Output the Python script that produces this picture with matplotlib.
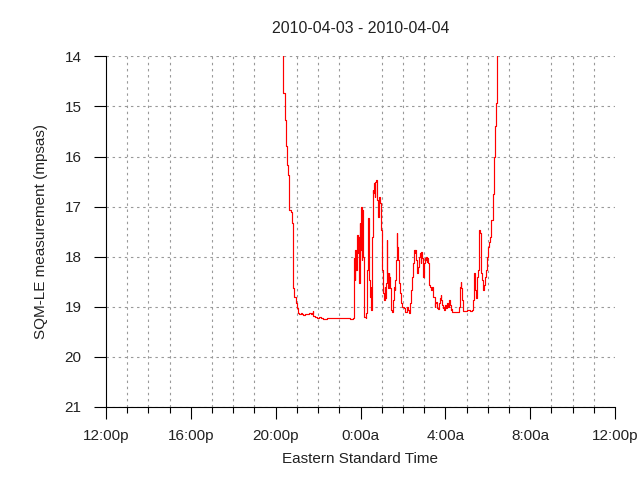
import matplotlib
matplotlib.use("Agg")
import matplotlib.pyplot as plt
from matplotlib.ticker import MultipleLocator

title = "2010-04-03 - 2010-04-04"
xlabel = "Eastern Standard Time"
ylabel = "SQM-LE measurement (mpsas)"
x_tick_pos = [0, 4, 8, 12, 16, 20, 24]
x_tick_labels = ["12:00p", "16:00p", "20:00p", "0:00a", "4:00a", "8:00a", "12:00p"]
y_ticks = [14, 15, 16, 17, 18, 19, 20, 21]

# hours after 12:00p (2010-04-03)
hours = [
    8.365, 8.365, 8.443, 8.443, 8.491, 8.491, 8.553, 8.600, 8.648, 8.711,
    8.758, 8.805, 8.836, 8.884, 8.947, 8.994, 9.057, 9.12, 9.18, 9.245,
    9.31, 9.37, 9.47, 9.56, 9.65, 9.72, 9.75, 9.78, 9.84, 9.94,
    10.03, 10.13, 10.22, 10.35, 10.41, 10.57, 10.88, 11.19, 11.51, 11.63,
    11.667, 11.699, 11.730, 11.761, 11.793, 11.840, 11.871, 11.903, 11.934, 11.966,
    11.997, 12.013, 12.029, 12.060, 12.092, 12.123, 12.155, 12.186, 12.249, 12.280,
    12.312, 12.359, 12.390, 12.422, 12.453, 12.485, 12.516, 12.548, 12.579, 12.610,
    12.642, 12.673, 12.705, 12.736, 12.768, 12.799, 12.831, 12.862, 12.893, 12.925,
    12.956, 12.988, 13.019, 13.051, 13.082, 13.114, 13.145, 13.176, 13.208, 13.239,
    13.271, 13.302, 13.334, 13.365, 13.397, 13.428, 13.459, 13.491, 13.522, 13.554,
    13.585, 13.617, 13.648, 13.680, 13.711, 13.742, 13.774, 13.805, 13.837, 13.868,
    13.900, 13.931, 13.963, 13.994, 14.025, 14.057, 14.088, 14.120, 14.151, 14.183,
    14.214, 14.246, 14.277, 14.309,
    14.340, 14.387, 14.434, 14.482, 14.529, 14.560, 14.592, 14.623, 14.654, 14.686,
    14.717, 14.749, 14.780, 14.812, 14.843, 14.875, 14.906, 14.937, 14.969, 15.000,
    15.032, 15.063, 15.095, 15.126, 15.158, 15.189, 15.220, 15.252, 15.283, 15.315,
    15.346, 15.378, 15.409, 15.441, 15.472, 15.504, 15.535, 15.566, 15.598, 15.629,
    15.661, 15.692, 15.724, 15.755, 15.787, 15.818, 15.849, 15.881, 15.912, 15.944,
    15.975, 16.007, 16.038, 16.070, 16.101, 16.132, 16.164, 16.195, 16.227, 16.258,
    16.290, 16.321, 16.384, 16.463, 16.541, 16.636, 16.667, 16.698, 16.730, 16.761,
    16.793, 16.824, 16.856, 16.934, 17.013, 17.092, 17.170, 17.249, 17.296, 17.327,
    17.359, 17.390, 17.422, 17.453, 17.485, 17.516, 17.547, 17.579, 17.610, 17.642,
    17.673, 17.705, 17.736, 17.768, 17.799, 17.830, 17.862, 17.893, 17.925, 17.956,
    17.988, 18.019, 18.051, 18.082, 18.113, 18.145, 18.176,
    18.24, 18.30, 18.35, 18.39, 18.43, 18.45,
]

mpsas = [
    13.50, 14.74, 14.77, 15.27, 15.27, 15.79, 16.17, 16.37, 17.07, 17.10,
    17.33, 17.67, 18.63, 18.80, 18.93, 19.03, 19.12, 19.14, 19.13, 19.15,
    19.17, 19.14, 19.14, 19.13, 19.14, 19.12, 19.08, 19.18, 19.21, 19.22,
    19.20, 19.22, 19.25, 19.25, 19.23, 19.23, 19.22, 19.22, 19.24, 19.24,
    19.23, 18.03, 18.46, 17.87, 18.27, 17.57, 17.93, 17.60, 18.53, 17.33,
    17.87, 17.27, 17.00, 18.07, 17.07, 18.00, 18.93, 19.20, 19.23, 19.13,
    18.27, 17.23, 18.07, 18.46, 18.80, 18.60, 19.06, 17.60, 16.67, 16.73,
    16.53, 16.80, 16.50, 16.47, 16.53, 16.87, 17.20, 17.07, 16.80, 16.93,
    17.00, 17.47, 18.27, 18.60, 18.73, 18.86, 18.60, 18.83, 18.53, 17.67,
    18.33, 18.63, 18.33, 18.40, 18.63, 18.93, 19.06, 19.10, 19.06, 18.86,
    18.60, 18.66, 18.46, 18.07, 17.53, 17.80, 18.07, 18.27, 18.53, 18.73,
    18.83, 18.93, 19.00, 19.00, 19.00, 19.03, 19.06, 19.10, 19.10, 19.03,
    19.00, 19.06, 19.12, 19.13,
    18.93, 18.66, 18.40, 18.13, 17.87, 17.93, 17.87, 18.07, 18.20, 18.33,
    18.20, 18.10, 18.00, 17.93, 18.13, 17.90, 18.03, 18.17, 18.40, 18.13,
    18.03, 18.07, 18.00, 18.10, 18.03, 18.13, 18.33, 18.56, 18.60, 18.60,
    18.66, 18.60, 18.70, 18.80, 18.80, 19.01, 18.93, 18.90, 19.00, 19.03,
    19.05, 18.96, 18.93, 18.83, 18.76, 18.86, 18.96, 19.03, 19.00, 19.06,
    19.01, 18.96, 19.03, 19.00, 18.93, 19.01, 18.93, 18.86, 18.96, 19.06,
    19.05, 19.11, 19.11, 19.11, 19.11, 19.11, 19.00, 18.60, 18.50, 18.63,
    18.86, 19.06, 19.08, 19.08, 19.06, 19.06, 19.08, 19.06, 19.03, 18.86,
    18.33, 18.60, 18.66, 18.83, 18.60, 18.40, 18.27, 17.67, 17.47, 17.53,
    17.93, 18.33, 18.46, 18.60, 18.66, 18.56, 18.53, 18.40, 18.27, 18.20,
    18.00, 17.80, 17.73, 17.70, 17.60, 17.47, 17.27,
    16.74, 16.00, 15.40, 14.94, 14.00, 13.00,
]

plt.rcParams['font.family'] = ['Liberation Sans', 'DejaVu Sans']
plt.rcParams['font.size'] = 11

fig = plt.figure(figsize=(6.4, 4.8), dpi=100)
ax = fig.add_axes([106/640, 1 - 407/480, (615 - 106)/640, (407 - 56.3)/480])

ax.plot(hours, mpsas, color='#ff0000', linewidth=0.85, drawstyle='steps-post',
        antialiased=True)

ax.set_xlim(0, 24)
ax.set_ylim(21, 14)
ax.set_xticks(x_tick_pos)
ax.set_xticklabels(x_tick_labels)
ax.xaxis.set_minor_locator(MultipleLocator(1))
ax.set_yticks(y_ticks)
ax.set_yticklabels([str(v) for v in y_ticks])

ax.tick_params(axis='x', which='major', direction='out', length=8.6, width=0.8,
               pad=7, colors='black', labelcolor='#222222')
ax.tick_params(axis='x', which='minor', direction='out', length=4.3, width=0.8)
ax.tick_params(axis='y', which='major', direction='out', length=8.6, width=0.8,
               pad=9, labelcolor='#222222')

grid_kw = dict(color='#999999', linewidth=0.8, linestyle=(0, (2.2, 3.3)))
ax.grid(True, axis='x', which='minor', **grid_kw)
ax.grid(True, axis='y', which='major', **grid_kw)
ax.set_axisbelow(True)

for side in ['top', 'right']:
    ax.spines[side].set_visible(False)
for side in ['left', 'bottom']:
    ax.spines[side].set_linewidth(0.8)
    ax.spines[side].set_color('black')

ax.set_title(title, pad=17, color='#222222', fontsize=11.4)
ax.set_xlabel(xlabel, labelpad=7, color='#222222')
ax.set_ylabel(ylabel, labelpad=12, color='#222222')

fig.savefig('out.png', dpi=100)
